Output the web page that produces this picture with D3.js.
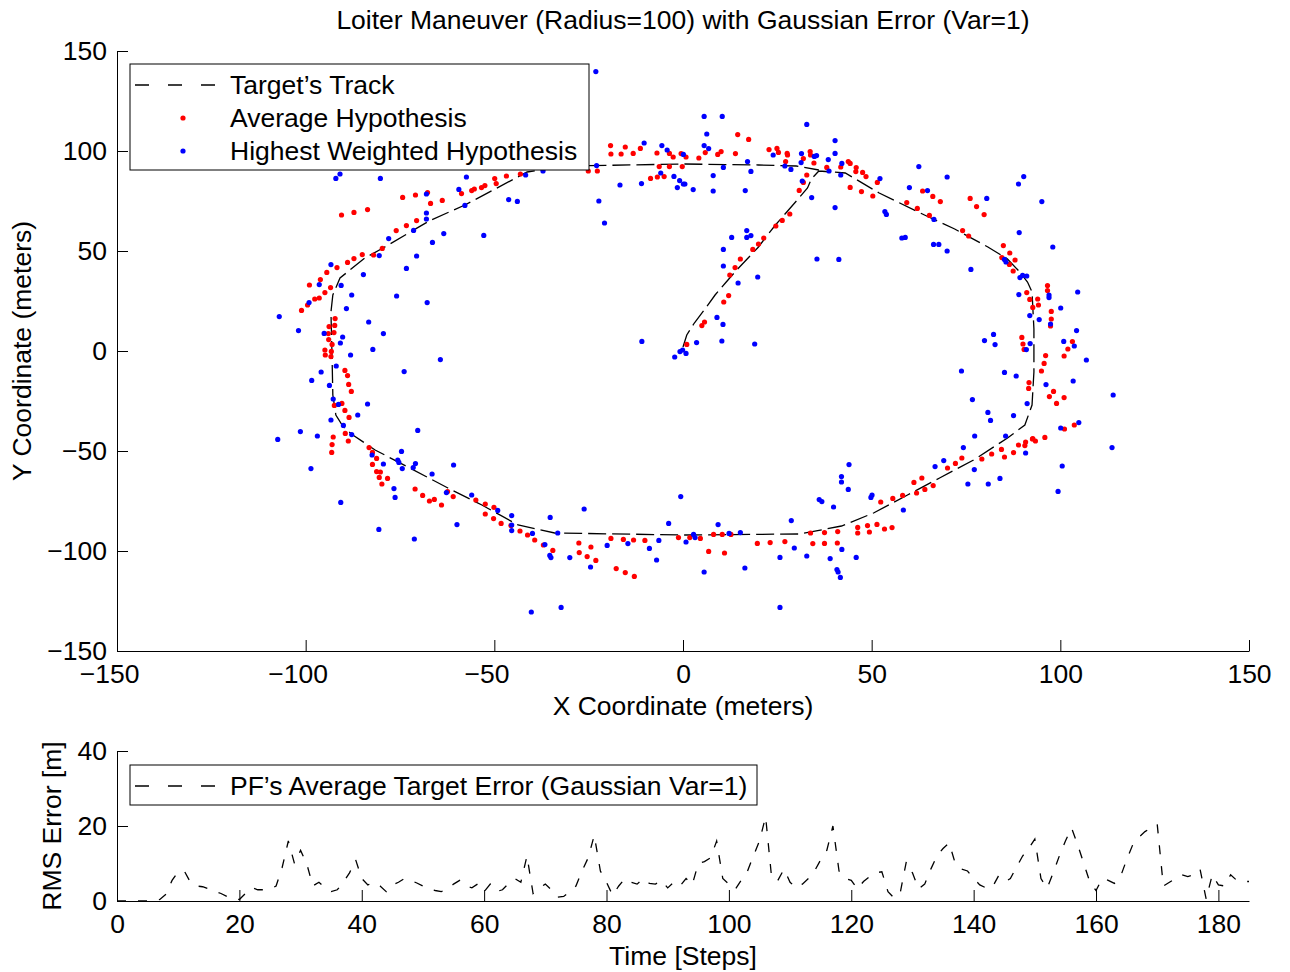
<!DOCTYPE html>
<html><head><meta charset="utf-8">
<script src="https://cdn.jsdelivr.net/npm/d3@7"></script>
<style>
body{margin:0;background:#fff}
text{font-family:"Liberation Sans",Arial,Helvetica,sans-serif;fill:#000}
</style>
</head><body>
<svg id="c" width="1290" height="972"></svg>
<script>
// ---------------- DATA ----------------
const chartTitle = "Loiter Maneuver (Radius=100) with Gaussian Error (Var=1)";
const xTicks = [-150, -100, -50, 0, 50, 100, 150];
const yTicks = [-150, -100, -50, 0, 50, 100, 150];
const timeTicks = [0, 20, 40, 60, 80, 100, 120, 140, 160, 180];
const errTicks = [0, 20, 40];
const legendMain = ["Target\u2019s Track", "Average Hypothesis", "Highest Weighted Hypothesis"];
const legendErr = ["PF\u2019s Average Target Error (Gaussian Var=1)"];

// target's track (meters)
const trackX = [0,1,3,6,8.5,11,14,17,20,22,24.5,27.5,30.5,33,34,36,43,52,64,72,80.8,86,89,91.3,92.5,93,93,92.5,90.6,86,77,68,59.5,50.5,42,31,0,-34,-43.7,-53.3,-62.3,-72.9,-81.6,-87.5,-90,-92,-92.8,-93,-93.3,-92.8,-90.9,-84.3,-79.5,-67.3,-57.8,-41.3,-30,0,20,30,36];
const trackY = [2,8,14,21.5,28,33.5,40,46,52,57,63,69.5,76,81.5,86,90,89,79,68,61,52,46,40,34.5,29.5,11,-10.5,-27,-37,-43.5,-54.5,-63.5,-72,-81,-87.5,-91.5,-92,-91,-87,-77,-68.5,-58,-49.5,-42,-38,-32,-22,-3.5,19.5,28,36.5,46.5,51.5,65,73,89.5,92.5,93.5,93,92.5,90.5];

// average hypothesis (red)
const avgHyp = [
[-90.5,68],[-87.2,69.3],[-83.6,70.7],[-74.3,76.8],[-70.9,78],[-67.7,79.2],[-66.9,73.8],[-63.8,75.3],[-58.7,78.7],[-56,80.2],[-55.3,81],[-53.4,81.7],[-52.5,82.7],[-49.9,86.2],[-49.5,83.7],[-46.8,87.5],[-43.1,88.5],[-76,60.2],[-73.3,62.7],[-70.6,65.2],[-79.7,51.3],
[-25.1,90],[-22.7,90],[-19.2,102.7],[-19.1,98.5],[-16.4,98.5],[-15.3,102],[-13.2,98.8],[-11.3,101.3],[-8.6,86.3],[-6.9,99],[-6.8,87],[-5,87.2],[-6.3,92.2],[-3.6,98.8],[-3.6,92.2],[-2.6,97],[-0.5,98.7],[-0.2,92.2],[0.8,97],[4.2,96.5],[5.9,99.2],[9.2,98.3],[10.1,99.7],[13.9,98.7],[14.5,108.2],[17.4,105.8],[22.8,100.7],[24.9,101.3],[25.3,99.3],[27.6,98.8],[27.7,98],[27.2,94.7],[31.9,96.2],[33.7,99.7],[33.8,98],[34.7,94],[32.8,88],[31.9,84.3],[30.8,80.3],[38.1,91.8],[41.8,92],[28.3,68.5],[26.3,65.3],[24.6,62.5],[21.4,56.5],[20,53.5],[18.5,50.8],
[43.8,94.7],[44.3,93.8],[45.9,91.7],[45.8,89.7],[47.6,89.3],[48.5,87.2],[51.5,84.3],[44.3,81.8],[47.3,79.7],[50.3,77.5],[59.3,74.2],[63.5,80],[66.2,77.3],[68.2,74.7],[62.1,71.3],[65.3,67.8],[76.1,76.3],[77.8,72.2],[79.8,68.2],[74.1,60.2],[75.7,57.5],[84.9,52.7],
[15.2,46],[13.8,41.7],[12.4,38],[12.1,27.7],[10.8,24.5],[5.7,14.5],[5,12.7],[1,3.3],
[-82,48],[-85,48.2],[-87.2,46.2],[-88.9,44.3],[-91.7,41.7],[-94.4,39.3],[-96.1,35.7],[-99,33],[-93.4,31.7],[-94.9,29.2],[-96.4,26.5],[-97.6,26],[-99.5,23],[-101.1,20.3],[-92.2,16.2],[-93.8,12.2],[-92.3,12.8],[-94,8.7],[-92.5,9.2],[-93.9,5.7],[-93,3.3],[-94.9,0.5],[-93.2,-0.2],[-94.8,-2],[-93.3,-2.8],[-89.6,-9.7],[-88.9,-12.3],[-88.6,-16.7],[-87.9,-20.2],[-90.4,-26.2],[-92.4,-27.2],[-89.6,-29.7],[-88.5,-33.2],[-89.5,-41.2],[-92.7,-43],
[86.6,49],[84.5,46.7],[88,45.5],[86.5,43.3],[87.5,40],[96.6,32.7],[96.6,30.2],[91.1,29.2],[91.9,25.8],[94,26],[92.7,21.8],[94.2,23],[97.6,19.8],[97.6,16],[97.4,12.5],[89.8,6.8],[90.1,3.5],[90.4,0.8],[96.1,-2.3],[95.7,-6.2],[95,-10],[103.2,4.7],[102,1],[101,-2.5],[91.7,-15.8],[91.6,-18.7],[98.2,-20.2],[97.1,-22.8],[101,-23.3],[99,-26.2],[103.7,-37],[101.1,-39],[92.7,-43.8],[95.9,-43.2],
[-88.7,-45],[-93,-46.8],[-93.1,-50.7],[-83.2,-48.3],[-82.3,-50.7],[-81.2,-53.7],[-82.3,-56.7],[-81.2,-60.3],[-80.2,-60.5],[-80.5,-63.2],[-78.3,-63.7],[-79.8,-66.5],[-71,-69],[-69,-72.2],[-67.2,-75],[-65.9,-74.2],[-64,-77],[-62.4,-70.3],[-60.9,-72.8],[-54.9,-74.5],[-52.4,-76.5],[-50.1,-78.2],[-52.4,-81.5],[-50.2,-83.8],[-48.2,-86.2],[-45.6,-87.3],[-43.2,-90],[-41.2,-92],[-39.3,-94.5],[-37,-97],[-34.5,-99.7],
[-27.6,-96],[-27.5,-100.8],[-25.4,-102.8],[-24.4,-98],[-23.1,-104.7],[-19.1,-93.7],[-17.7,-108.8],[-15.8,-94.2],[-15.3,-110.8],[-13.1,-94.5],[-12.9,-112.7],[-10.1,-94.7],[-1.2,-93.3],[1.8,-93.3],[4.6,-93.7],[6.8,-100.2],[8.1,-91.7],[10.4,-91.7],[11,-101],[12.7,-91.7],[19.7,-96.2],[23.1,-95.8],[27,-95.3],[33.8,-91],[34.4,-96.3],[37.5,-90.8],[37.5,-96.2],[41,-90.3],[40.9,-96],
[46.3,-88.2],[46.3,-91],[48.9,-87.3],[49.4,-90.5],[51.4,-86.7],[53.4,-89],[55.4,-88.3],[52.4,-75.5],[55.6,-73.7],[58.2,-72.2],[61.2,-65.7],[61.9,-71],[63.3,-63.5],[64.1,-69.2],[66.3,-67.3],[70.1,-58.5],[72.2,-56.2],[73.9,-53.5],[79.2,-54],[81.8,-51.5],[84.4,-49.2],[85.2,-53],[87.6,-50.8],[88.9,-47],[90.6,-47.3],[90.8,-45.5],[92.6,-44],[93.4,-45]
];

// highest weighted hypothesis (blue)
const bestHyp = [
[-92,86.3],[-90.9,88.5],[-80.2,86.3],[-57.4,87],[-59.4,80.8],[-57.8,72.8],[-68,78.5],[-68,69],[-68,66],[-71.4,60.3],[-78,56.2],[-66.4,54.3],[-63.4,58.7],[-52.8,57.8],[-46.2,75.7],[-43.9,74.8],[-41.7,88],[-37.1,90],
[-23.1,139.7],[-22.9,92.7],[-22.3,75],[-20.8,64],[-16.7,83],[-11,83.7],[-10.3,104],[-5.6,102.7],[-4.2,100.5],[-5.9,89],[-2.4,87.3],[-1.5,81.7],[-0.9,85.2],[0.1,83.5],[0.5,83.5],[0.1,98.3],[2.7,80.7],[5.6,117.3],[6.3,108.5],[5.6,102.7],[6.8,101.2],[10.4,117.3],[8,87.7],[8,80],[10.7,91.8],[16.5,80.2],[17.1,94.7],[18,89.8],[23.9,98],[27,92.5],[28.6,90.8],[31.4,98.7],[31.3,94.2],[31.6,85],[32.8,113.3],[34.1,76.7],[34.8,97.3],[35.4,97.7],[38.7,90],[38.5,95.7],[40.3,105.2],[40.3,98.8],[40.3,71.7],[42.1,93.8],[41.8,88],[12.9,56.8],[16.9,60.2],[18,57.7],[16.9,56.8],[10.7,50.8],
[52.2,86.2],[62.5,92.2],[70,87],[60,81.7],[64.8,80.2],[53.5,69.7],[53.9,68.3],[66.5,65.8],[58,56.5],[58.9,56.8],[66.4,53.3],[67.8,53.3],[70,50],[80.5,76.3],[88.9,83.5],[90.3,87.2],[95.1,74.7],[89.1,59.2],[98,52],
[10.7,42.5],[14.6,34],[19.8,37],[35.5,46],[41.3,45.8],[9,16.8],[10.6,13.3],[3.6,4.2],[10.3,5],[19,3.5],[-10.9,4.8],[-0.1,0.5],[-0.8,-0.3],[0.8,-1.2],[-2.2,-3],
[-93.3,43.2],[-80.5,47.7],[-70.6,47.5],[-73.3,41.3],[-84.7,38.2],[-96.4,33.2],[-90.6,32.8],[-87.8,28],[-99.1,24.2],[-89.2,21.2],[-75.9,27.5],[-67.8,24.2],[-107,17.2],[-83.3,14.5],[-101.9,10.2],[-95.1,8.8],[-90.2,7],[-79.4,8.7],[-90.8,4],[-82.2,0.8],[-88.1,-2],[-64.3,-4.3],[-91.9,-7.5],[-95.9,-10.5],[-98.4,-14.7],[-73.9,-10.3],[-93.7,-17.2],[-92.7,-24],[-91.3,-26.7],[-83.6,-26.5],[-86.2,-32],[-93.3,-34.5],[-90,-37.2],[-101.4,-40.3],[-96.9,-42.5],[-87.8,-41.8],[-70.3,-39.7],[-107.4,-44.2],
[76.3,40.8],[85.2,45.8],[85.6,44.5],[89.3,36.7],[90,37.8],[91.1,37.5],[89,28.2],[97,28],[97,26.7],[104.6,29.5],[100.1,21.5],[91.9,17.7],[94.4,15.7],[97.4,13.5],[104.3,10.2],[82.3,8.3],[79.9,5.2],[82.7,3.2],[92,3.7],[91,0.7],[100.9,4.8],[103.7,2.5],[106.9,-4.5],[73.8,-10],[85.2,-10.7],[88.3,-12.5],[96.2,-16.8],[103.4,-15],[114,-22],[76.7,-24.3],[91.2,-26.3],[80.8,-30.7],[81.5,-34.7],[87.6,-32.3],[104.9,-35.8],[100.1,-38.5],[77.3,-42.5],[85.5,-42.5],
[-98.6,-58.8],[-90.7,-75.7],[-82.4,-52],[-79.4,-56.5],[-74.6,-50.2],[-75.6,-54.5],[-75.3,-55.7],[-74.4,-58.8],[-71.5,-58.3],[-70.9,-56.3],[-66.5,-61.5],[-60.8,-57],[-76.6,-68.8],[-76.3,-73.2],[-62.7,-70.8],[-56,-72],[-80.6,-89.2],[-71.2,-94],[-59.9,-86.8],[-49.1,-79.7],[-45.4,-82.3],[-45.4,-87],[-45.4,-89.8],[-39.9,-91.2],[-35.2,-83.2],[-33.2,-91],[-36.6,-96.8],[-35.3,-102.2],[-35,-103.3],[-40.2,-130.5],
[-30,-103.3],[-32.3,-128.2],[-26.2,-79],[-24.5,-108],[-20.1,-97.2],[-14.6,-96.3],[-8.9,-98.7],[-7,-104.5],[-6.4,-94.7],[-3.8,-86.2],[-0.6,-72.8],[0.8,-95.5],[2.8,-91.7],[3.2,-93.3],[5.6,-110.5],[9.3,-86.8],[12.2,-91.2],[15.2,-90.8],[16.4,-108.5],[25.7,-103.2],[25.7,-128.2],[28.7,-84.8],[29.5,-98.5],[32.8,-102.5],[36.1,-74.3],[36.8,-75.3],[39,-103.8],[39.9,-78],[40.8,-109.3],[41.1,-110.5],[41.7,-113.2],[42,-62.8],[42,-65.5],[42.1,-99.2],
[44,-56.8],[43.8,-69.2],[45.9,-103.2],[49.8,-73.2],[50.1,-72],[58.4,-79.5],[66.8,-57.8],[69.1,-54.8],[74.3,-48.3],[75.5,-66.5],[77.2,-59.3],[80.9,-66.5],[84,-63.7],[90.8,-51],[99.4,-70.2],[100.5,-57.5],[113.7,-48.3]
];

// RMS error per time step (index = step)
const rmsError = [0,0,0,0,0,0,0.1,0.4,1.8,5.5,7.8,8,5,4,3.8,3.2,2.5,2,1.2,0.5,
0.4,2,3.6,3,3,3.1,4,9,16,10,13.5,10,4,5,3.5,2.5,3,5,7.5,11,
6,4.3,5,4,2.5,4.3,5,6,5.5,4.8,4,3.2,2.8,2.5,3,4.5,5.5,4,3.5,4.6,
2.5,4.5,2.5,3,4.7,6,5,12,2,3.5,4.5,3,1,1.2,2.5,4,8,11.5,17.5,8,
5,1.5,4,6,5,4.5,6,4.7,4.5,5.5,3.5,5,4,6,4.3,10,10.5,11.5,16,6,
4.5,3,5.5,7.8,12,16,22.5,6,5.5,8.5,5,3.5,4.5,6,8,11,13.5,20,8,6,
5.5,3.2,5.2,6.5,7.5,7.8,2.5,0.8,2.2,10.5,7.5,3.2,4.5,8.5,12,14,15.5,10,8.5,8,
6,4.3,3.5,3.5,6.5,5,6,9,12,14,16.5,6,3.4,7.5,12,16,19.5,15,10,5,
2.8,6,5.5,4.7,6.5,11,15,17,18.5,19.5,20.5,4,5,6,7,6.5,7,8.5,0.5,7,
4.3,4,7,5.5,5.2,5.2];

// ---------------- DRAW ----------------
const FS = 26.5;
const svg = d3.select("#c");
svg.append("rect").attr("width",1290).attr("height",972).attr("fill","#fff");

const x = d3.scaleLinear().domain([-150,150]).range([117,1249]);
const y = d3.scaleLinear().domain([-150,150]).range([651,51]);

// title
svg.append("text").attr("x",683).attr("y",20).attr("dy","0.35em")
  .attr("text-anchor","middle").attr("font-size",FS).text(chartTitle);

// track
svg.append("path").datum(d3.zip(trackX,trackY))
  .attr("d", d3.line().x(d=>x(d[0])).y(d=>y(d[1])))
  .attr("fill","none").attr("stroke","#000").attr("stroke-width",1.3)
  .attr("stroke-dasharray","18,6");

// average hypothesis
svg.append("g").selectAll("circle").data(avgHyp).join("circle")
  .attr("cx",d=>x(d[0])).attr("cy",d=>y(d[1])).attr("r",2.6).attr("fill","#ff0000");
// highest weighted hypothesis
svg.append("g").selectAll("circle").data(bestHyp).join("circle")
  .attr("cx",d=>x(d[0])).attr("cy",d=>y(d[1])).attr("r",2.6).attr("fill","#0000ff");

function styleAxis(g){
  g.selectAll("path.domain").attr("stroke","#000").attr("stroke-width",1);
  g.selectAll(".tick line").attr("stroke","#000").attr("stroke-width",1);
  g.selectAll(".tick text").attr("font-size",FS).attr("fill","#000")
   .attr("font-family","'Liberation Sans',Arial,Helvetica,sans-serif");
  g.attr("font-size",null).attr("font-family",null);
}
const fmt = d3.format("");
const gxMain = svg.append("g").attr("transform","translate(0,651)")
  .call(d3.axisBottom(x).tickValues(xTicks).tickFormat(fmt).tickSize(-11).tickSizeOuter(0).tickPadding(13));
styleAxis(gxMain);
gxMain.selectAll(".tick text").attr("dx",d=>d<0?"-0.3em":null);
const gyMain = svg.append("g").attr("transform","translate(117,0)")
  .call(d3.axisLeft(y).tickValues(yTicks).tickFormat(fmt).tickSize(-11).tickSizeOuter(0).tickPadding(10));
styleAxis(gyMain);

svg.append("text").attr("x",683).attr("y",706).attr("dy","0.35em")
  .attr("text-anchor","middle").attr("font-size",FS).text("X Coordinate (meters)");
svg.append("text").attr("transform","translate(22,351) rotate(-90)").attr("dy","0.35em")
  .attr("text-anchor","middle").attr("font-size",FS).text("Y Coordinate (meters)");

// main legend
const lg = svg.append("g");
lg.append("rect").attr("x",130).attr("y",64).attr("width",459).attr("height",106)
  .attr("fill","#fff").attr("stroke","#000").attr("stroke-width",1);
const rowY = [85,118,151];
lg.append("line").attr("x1",135).attr("x2",217).attr("y1",rowY[0]).attr("y2",rowY[0])
  .attr("stroke","#000").attr("stroke-width",1.3).attr("stroke-dasharray","14,19");
lg.append("circle").attr("cx",183).attr("cy",rowY[1]).attr("r",2.6).attr("fill","#ff0000");
lg.append("circle").attr("cx",183).attr("cy",rowY[2]).attr("r",2.6).attr("fill","#0000ff");
lg.selectAll("text.l").data(legendMain).join("text").attr("class","l")
  .attr("x",230).attr("y",(d,i)=>rowY[i]).attr("dy","0.35em").attr("font-size",FS).text(d=>d);

// ---------- bottom chart ----------
const xt = d3.scaleLinear().domain([0,185]).range([117,1249]);
const ye = d3.scaleLinear().domain([0,40]).range([901,751]);

svg.append("path").datum(rmsError)
  .attr("d", d3.line().x((d,i)=>xt(i)).y(d=>ye(d)))
  .attr("fill","none").attr("stroke","#000").attr("stroke-width",1.3)
  .attr("stroke-dasharray","9,12");

const gxErr = svg.append("g").attr("transform","translate(0,901)")
  .call(d3.axisBottom(xt).tickValues(timeTicks).tickFormat(fmt).tickSize(-11).tickSizeOuter(0).tickPadding(13));
styleAxis(gxErr);
const gyErr = svg.append("g").attr("transform","translate(117,0)")
  .call(d3.axisLeft(ye).tickValues(errTicks).tickFormat(fmt).tickSize(-11).tickSizeOuter(0).tickPadding(10));
styleAxis(gyErr);

svg.append("text").attr("x",683).attr("y",956).attr("dy","0.35em")
  .attr("text-anchor","middle").attr("font-size",FS).text("Time [Steps]");
svg.append("text").attr("transform","translate(52,826) rotate(-90)").attr("dy","0.35em")
  .attr("text-anchor","middle").attr("font-size",FS).text("RMS Error [m]");

const lg2 = svg.append("g");
lg2.append("rect").attr("x",130).attr("y",765).attr("width",627).attr("height",40)
  .attr("fill","#fff").attr("stroke","#000").attr("stroke-width",1);
lg2.append("line").attr("x1",135).attr("x2",217).attr("y1",786).attr("y2",786)
  .attr("stroke","#000").attr("stroke-width",1.3).attr("stroke-dasharray","14,19");
lg2.selectAll("text.l").data(legendErr).join("text").attr("class","l")
  .attr("x",230).attr("y",786).attr("dy","0.35em").attr("font-size",FS).text(d=>d);
</script>
</body></html>
